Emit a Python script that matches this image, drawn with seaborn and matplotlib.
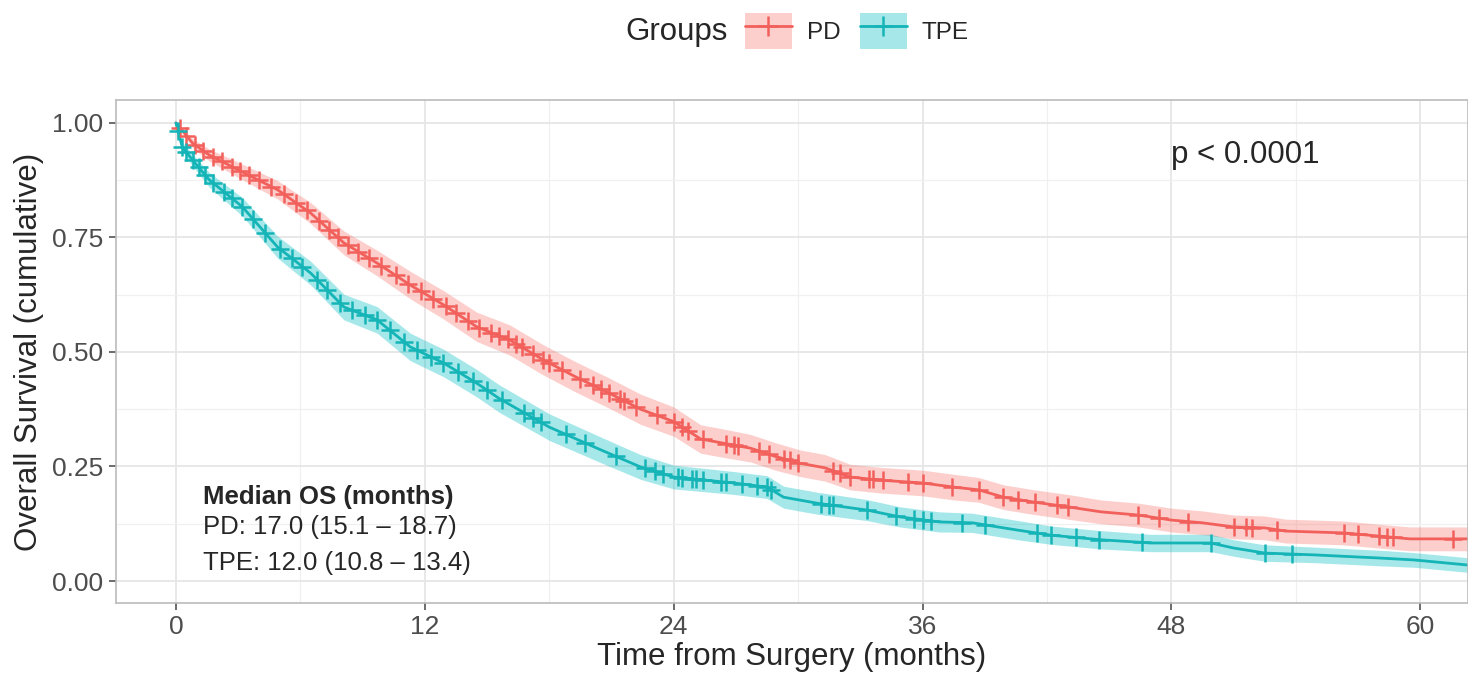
import numpy as np
import pandas as pd
import matplotlib
matplotlib.use("Agg")
import matplotlib.pyplot as plt
import seaborn as sns
from matplotlib.patches import Patch
from matplotlib.lines import Line2D
from matplotlib.ticker import MultipleLocator

# survival curves (months, cumulative survival)
pd_time = [0, 0.8, 1.6, 3.2, 4.9, 6.5, 8.1, 9.7, 11.3, 12.9, 14.5, 16.1, 17.7, 19.3, 20.9,
           22.4, 24.0, 25.3, 26.5, 27.7, 28.9, 30.1, 31.3, 32.5, 34.0, 36.0, 37.5, 38.7,
           39.9, 41.4, 43.0, 44.6, 46.4, 48.0, 49.5, 51.0, 52.5, 53.5, 56.3, 58.5, 59.5, 62.5]
pd_surv = [1.0, 0.956, 0.93, 0.893, 0.854, 0.803, 0.738, 0.694, 0.646, 0.603, 0.555, 0.526,
           0.483, 0.445, 0.41, 0.375, 0.348, 0.31, 0.300, 0.29, 0.272, 0.257, 0.247, 0.227,
           0.22, 0.214, 0.205, 0.199, 0.183, 0.172, 0.162, 0.151, 0.144, 0.133, 0.127, 0.118,
           0.116, 0.109, 0.105, 0.096, 0.092, 0.092]
pd_ci = [0.0, 0.01, 0.013, 0.017, 0.02, 0.023, 0.026, 0.028, 0.03, 0.031, 0.032, 0.033,
         0.033, 0.033, 0.033, 0.033, 0.032, 0.031, 0.031, 0.03, 0.03, 0.029, 0.029, 0.028,
         0.028, 0.028, 0.028, 0.027, 0.027, 0.027, 0.027, 0.026, 0.026, 0.026, 0.026, 0.026,
         0.026, 0.026, 0.026, 0.026, 0.026, 0.026]

tpe_time = [0, 0.3, 0.8, 1.6, 3.2, 4.9, 6.5, 8.1, 9.7, 11.3, 12.9, 14.5, 15.6, 18.0, 20.5,
            22.4, 24.0, 26.9, 28.5, 29.3, 30.9, 33.3, 34.9, 36.8, 38.4, 40.6, 42.2, 44.6,
            47.0, 49.9, 51.0, 52.5, 54.9, 58.1, 59.7, 62.5]
tpe_surv = [1.0, 0.948, 0.919, 0.876, 0.817, 0.729, 0.672, 0.598, 0.57, 0.511, 0.476, 0.432,
            0.398, 0.336, 0.286, 0.249, 0.227, 0.214, 0.205, 0.183, 0.17, 0.155, 0.14, 0.129,
            0.127, 0.111, 0.10, 0.09, 0.083, 0.083, 0.072, 0.061, 0.057, 0.05, 0.046, 0.034]
tpe_ci = [0.0, 0.01, 0.013, 0.016, 0.02, 0.024, 0.026, 0.028, 0.029, 0.03, 0.03, 0.03,
          0.03, 0.029, 0.028, 0.027, 0.026, 0.025, 0.025, 0.024, 0.024, 0.023, 0.022, 0.022,
          0.021, 0.021, 0.02, 0.02, 0.019, 0.019, 0.018, 0.018, 0.017, 0.017, 0.016, 0.016]

# censoring times (months)
pd_censor = [0.2, 0.5, 0.9, 1.3, 1.8, 2.2, 2.7, 3.1, 3.5, 4.0, 4.6, 5.2, 5.8, 6.3, 6.9, 7.4,
             7.8, 8.3, 8.8, 9.3, 9.9, 10.6, 11.2, 11.8, 12.4, 13.0, 13.5, 14.1, 14.6, 15.2,
             15.6, 16.0, 16.4, 16.7, 17.2, 17.7, 18.0, 18.6, 19.5, 20.1, 20.5, 20.9, 21.4,
             21.6, 22.2, 23.2, 24.0, 24.4, 24.7, 25.4, 26.5, 26.9, 27.1, 28.1, 28.6, 29.3,
             29.6, 30.0, 31.7, 32.0, 32.5, 33.4, 33.6, 34.1, 35.3, 36.0, 37.4, 38.7, 39.9,
             40.6, 41.4, 42.5, 43.0, 46.4, 47.4, 48.8, 51.0, 51.6, 51.9, 53.1, 56.3, 57.0,
             58.0, 58.4, 58.7, 61.6]
tpe_censor = [0.1, 0.3, 0.5, 0.8, 1.1, 1.4, 1.8, 2.3, 2.7, 3.2, 3.7, 4.3, 5.0, 5.6, 6.1, 6.8,
              7.3, 7.9, 8.5, 9.1, 9.7, 10.3, 11.0, 11.6, 12.3, 12.9, 13.6, 14.3, 15.0, 15.7,
              16.8, 17.2, 17.6, 18.8, 19.7, 21.2, 22.6, 23.1, 23.5, 24.2, 24.4, 24.9, 25.1,
              25.4, 26.3, 26.5, 27.3, 28.0, 28.5, 28.7, 31.1, 31.5, 31.7, 33.3, 34.7, 35.6,
              36.0, 36.4, 37.9, 39.0, 41.5, 42.2, 43.4, 44.5, 46.6, 49.9, 52.5, 53.8]

groups = ["PD", "TPE"]
line_colors = {"PD": "#F2605C", "TPE": "#14B4B7"}
band_colors = {"PD": "#F8766D", "TPE": "#00BFC4"}

curves = {"PD": (pd_time, pd_surv, pd_ci, pd_censor),
          "TPE": (tpe_time, tpe_surv, tpe_ci, tpe_censor)}

sns.set_theme(style="white")
plt.rcParams["font.family"] = ["Liberation Sans", "DejaVu Sans"]

fig = plt.figure(figsize=(14.68, 6.83), dpi=100)
ax = fig.add_axes([116 / 1468, 1 - 603 / 683, 1 - 116 / 1468, (603 - 100) / 683])

for g in groups:
    t, s, ci, cens = curves[g]
    df = pd.DataFrame({"time": t, "surv": s, "ci": ci})
    ax.fill_between(df["time"], df["surv"] - df["ci"], df["surv"] + df["ci"],
                    color=band_colors[g], alpha=0.35, linewidth=0)
    sns.lineplot(data=df, x="time", y="surv", color=line_colors[g], linewidth=2,
                 ax=ax, legend=False)
    cdf = pd.DataFrame({"time": cens, "surv": np.interp(cens, t, s)})
    sns.scatterplot(data=cdf, x="time", y="surv", marker="+", s=150, linewidth=1.8,
                    color=line_colors[g], ax=ax, legend=False, zorder=3)

ax.set_xlim(-2.89, 62.3)
ax.set_ylim(-0.048, 1.05)
ax.xaxis.set_major_locator(MultipleLocator(12))
ax.xaxis.set_minor_locator(MultipleLocator(6))
ax.yaxis.set_major_locator(MultipleLocator(0.25))
ax.yaxis.set_minor_locator(MultipleLocator(0.125))
ax.yaxis.set_major_formatter(matplotlib.ticker.FormatStrFormatter("%.2f"))
ax.grid(which="major", color="#E6E6E6", linewidth=1.3)
ax.grid(which="minor", color="#F0F0F0", linewidth=0.9)
ax.set_axisbelow(True)
for sp in ax.spines.values():
    sp.set_color("#BBBBBB")
    sp.set_linewidth(1.2)
ax.tick_params(axis="both", which="major", length=5, width=1.1, color="#444444",
               labelsize=19, labelcolor="#4D4D4D", direction="out",
               bottom=True, left=True, pad=4)
ax.tick_params(which="minor", length=0)
ax.set_xlabel("Time from Surgery (months)", fontsize=22.5, labelpad=2)
ax.set_ylabel("Overall Survival (cumulative)", fontsize=22.5, labelpad=6)

ax.text(48, 0.93, "p < 0.0001", fontsize=22.5, va="center", ha="left")
ax.text(1.3, 0.183, "Median OS (months)", fontsize=18.5, fontweight="bold", va="center")
ax.text(1.3, 0.117, "PD: 17.0 (15.1 \u2013 18.7)", fontsize=18.5, va="center")
ax.text(1.3, 0.039, "TPE: 12.0 (10.8 \u2013 13.4)", fontsize=18.5, va="center")

handles = [(Patch(facecolor=band_colors[g], alpha=0.35, edgecolor="none"),
            Line2D([], [], color=line_colors[g], marker="+", markersize=14,
                   markeredgewidth=1.8, linewidth=2)) for g in groups]
fig.text(625 / 1468, 1 - 32 / 683, "Groups", fontsize=22.5, va="center", ha="left")
fig.legend(handles, groups, loc="center left", bbox_to_anchor=(735 / 1468, 1 - 31 / 683),
           ncol=2, frameon=False, fontsize=17.5, handlelength=1.95, handleheight=1.85,
           columnspacing=0.8, handletextpad=0.6, borderaxespad=0)

fig.savefig("out.png", dpi=100)
